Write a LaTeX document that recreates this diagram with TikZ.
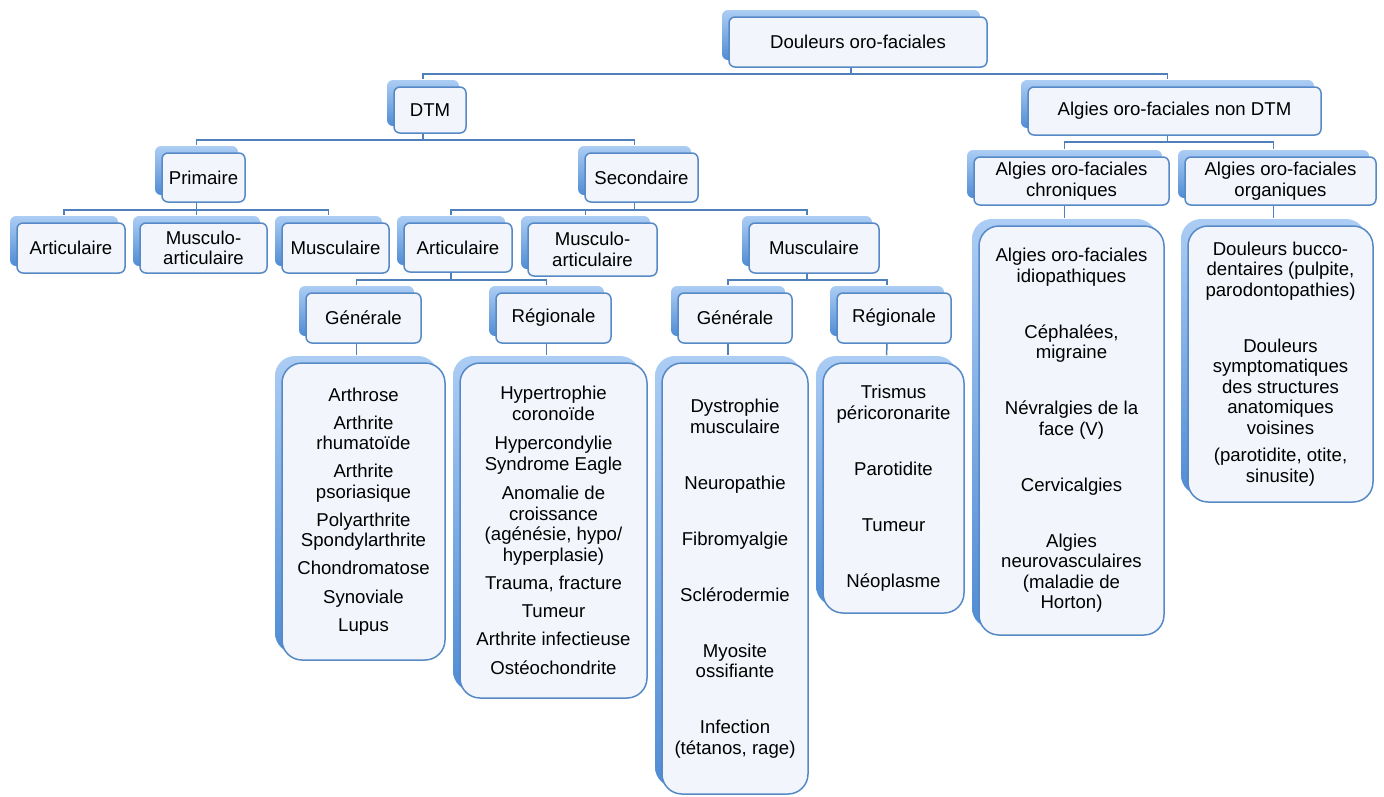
\documentclass[tikz,border=0pt]{standalone}
\usepackage{fontspec}
\setmainfont{Liberation Sans}
\usepackage{xcolor}
\usepackage{tikz}
\usetikzlibrary{positioning,calc,shadows}

\definecolor{boxline}{RGB}{86,137,198}
\definecolor{boxfill}{RGB}{242,246,252}
\definecolor{shadetop}{RGB}{172,205,244}
\definecolor{shadebot}{RGB}{80,140,212}
\definecolor{linkcol}{RGB}{80,128,186}

\begin{document}
\begin{tikzpicture}[
    x=1pt, y=-1pt,
    box/.style={rectangle, rounded corners=6pt, draw=boxline, line width=1.5pt, fill=boxfill,
        align=center, inner sep=2pt, font=\fontsize{18.6}{20.5}\selectfont,
        general shadow={shadow xshift=-7pt, shadow yshift=7pt, top color=shadetop, bottom color=shadebot, draw=none}},
    leaf/.style={box, rounded corners=20pt},
    sz/.style 2 args={minimum width=#1, minimum height=#2},
    link/.style={draw=linkcol, line width=1.5pt}
]
\useasboundingbox (0,0) rectangle (1384,796);

% Top levels
\node[box, sz={258}{50}] (root) at (858,42) {Douleurs oro-faciales};
\node[box, sz={72}{46}] (dtm) at (430,110) {DTM};
\node[box, sz={293}{48}] (nondtm) at (1174.5,111) {Algies oro-faciales non DTM};

% DTM branch
\node[box, sz={83}{49}] (prim) at (203.5,177.5) {Primaire};
\node[box, sz={113}{49}] (sec) at (641.5,177.5) {Secondaire};

\node[box, sz={108}{50}] (partic) at (71,248) {Articulaire};
\node[box, sz={127}{50}] (pmusart) at (203.5,248) {Musculo-\\articulaire};
\node[box, sz={107}{50}] (pmusc) at (335.5,248) {Musculaire};

\node[box, sz={108}{49}] (sartic) at (458,247.5) {Articulaire};
\node[box, sz={129}{53}] (smusart) at (592.5,249.5) {Musculo-\\articulaire};
\node[box, sz={130}{50}] (smusc) at (814,248) {Musculaire};

\node[box, sz={115}{50}] (agen) at (363.5,318) {Générale};
\node[box, sz={115}{50}] (areg) at (553.5,318) {Régionale};
\node[box, sz={114}{50}] (mgen) at (735,318) {Générale};
\node[box, sz={114}{50}] (mreg) at (894,318) {Régionale};

% Lists
\node[leaf, sz={163}{297}] (agenlist) at (363.5,511.5) {
    Arthrose\\[7.5pt]
    Arthrite\\rhumatoïde\\[7.5pt]
    Arthrite\\psoriasique\\[7.5pt]
    Polyarthrite\\Spondylarthrite\\[7.5pt]
    Chondromatose\\[8pt]
    Synoviale\\[7.5pt]
    Lupus
};
\node[leaf, sz={187}{335}] (areglist) at (553.5,530.5) {
    Hypertrophie\\coronoïde\\[9pt]
    Hypercondylie\\Syndrome Eagle\\[9pt]
    Anomalie de\\croissance\\(agénésie, hypo/\\hyperplasie)\\[8pt]
    Trauma, fracture\\[7pt]
    Tumeur\\[8pt]
    Arthrite infectieuse\\[8pt]
    Ostéochondrite
};
\node[leaf, sz={146}{431}] (mgenlist) at (735,578.5) {
    Dystrophie\\musculaire\\[35.5pt]
    Neuropathie\\[35.5pt]
    Fibromyalgie\\[35.5pt]
    Sclérodermie\\[35.5pt]
    Myosite\\ossifiante\\[35.5pt]
    Infection\\(tétanos, rage)
};
\node[leaf, sz={141}{250}] (mreglist) at (893.5,488) {
    Trismus\\péricoronarite\\[35.5pt]
    Parotidite\\[35.5pt]
    Tumeur\\[35.5pt]
    Néoplasme
};

% Non DTM branch
\node[box, sz={195}{48}] (chron) at (1071.5,181) {Algies oro-faciales\\chroniques};
\node[box, sz={191}{48}] (organ) at (1280.5,181) {Algies oro-faciales\\organiques};
\node[leaf, sz={185}{409}] (chronlist) at (1071.5,430.5) {
    Algies oro-faciales\\idiopathiques\\[35.5pt]
    Céphalées,\\migraine\\[35.5pt]
    Névralgies de la\\face (V)\\[35.5pt]
    Cervicalgies\\[35.5pt]
    Algies\\neurovasculaires\\(maladie de\\Horton)
};
\node[leaf, sz={185}{276}] (organlist) at (1280.5,364) {
    Douleurs bucco-\\dentaires (pulpite,\\parodontopathies)\\[35.5pt]
    Douleurs\\symptomatiques\\des structures\\anatomiques\\voisines\\[7pt]
    (parotidite, otite,\\sinusite)
};

% Connectors
\draw[link] ([xshift=-7pt]root.south) -- ++(0,6) -| ([shift={(-7pt,7pt)}]dtm.north);
\draw[link] ([xshift=-7pt]root.south) -- ++(0,6) -| ([shift={(-7pt,7pt)}]nondtm.north);

\draw[link] ([xshift=-7pt]dtm.south) -- ++(0,6) -| ([shift={(-7pt,7pt)}]prim.north);
\draw[link] ([xshift=-7pt]dtm.south) -- ++(0,6) -| ([shift={(-7pt,7pt)}]sec.north);

\draw[link] ([xshift=-7pt]prim.south) -- ++(0,7) -| ([shift={(-7pt,7pt)}]partic.north);
\draw[link] ([xshift=-7pt]prim.south) -- ++(0,7) -| ([shift={(-7pt,7pt)}]pmusart.north);
\draw[link] ([xshift=-7pt]prim.south) -- ++(0,7) -| ([shift={(-7pt,7pt)}]pmusc.north);

\draw[link] ([xshift=-7pt]sec.south) -- ++(0,7) -| ([shift={(-7pt,7pt)}]sartic.north);
\draw[link] ([xshift=-7pt]sec.south) -- ++(0,7) -| ([shift={(-7pt,7pt)}]smusart.north);
\draw[link] ([xshift=-7pt]sec.south) -- ++(0,7) -| ([shift={(-7pt,7pt)}]smusc.north);

\draw[link] ([xshift=-7pt]sartic.south) -- ++(0,7) -| ([shift={(-7pt,7pt)}]agen.north);
\draw[link] ([xshift=-7pt]sartic.south) -- ++(0,7) -| ([shift={(-7pt,7pt)}]areg.north);
\draw[link] ([xshift=-7pt]smusc.south) -- ++(0,6) -| ([shift={(-7pt,7pt)}]mgen.north);
\draw[link] ([xshift=-7pt]smusc.south) -- ++(0,6) -| ([shift={(-7pt,7pt)}]mreg.north);

\draw[link] ([xshift=-7pt]agen.south) -- ([shift={(-7pt,7pt)}]agenlist.north);
\draw[link] ([xshift=-7pt]areg.south) -- ([shift={(-7pt,7pt)}]areglist.north);
\draw[link] ([xshift=-7pt]mgen.south) -- ([shift={(-7pt,7pt)}]mgenlist.north);
\draw[link] ([xshift=-7pt]mreg.south) -- ([shift={(-7pt,7pt)}]mreglist.north);

\draw[link] ([xshift=-7pt]nondtm.south) -- ++(0,6) -| ([shift={(-7pt,7pt)}]chron.north);
\draw[link] ([xshift=-7pt]nondtm.south) -- ++(0,6) -| ([shift={(-7pt,7pt)}]organ.north);
\draw[link] ([xshift=-7pt]chron.south) -- ([shift={(-7pt,7pt)}]chronlist.north);
\draw[link] ([xshift=-7pt]organ.south) -- ([shift={(-7pt,7pt)}]organlist.north);

\end{tikzpicture}
\end{document}
